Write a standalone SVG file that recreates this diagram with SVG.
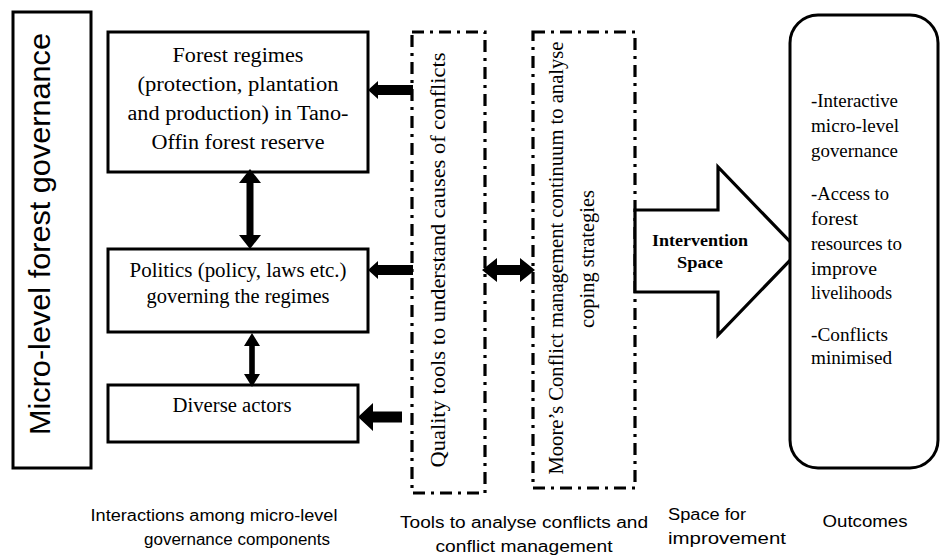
<svg xmlns="http://www.w3.org/2000/svg" width="941" height="555" viewBox="0 0 941 555">
  <style>
    .box { fill: #ffffff; stroke: #000000; stroke-width: 3; }
    .dash { fill: none; stroke: #000000; stroke-width: 3.2; stroke-dasharray: 12 6 3 6; }
    .arrow { fill: #000000; stroke: none; }
    .serif { font-family: "Liberation Serif", "Times New Roman", serif; fill: #000000; }
    .sans { font-family: "Liberation Sans", Arial, sans-serif; fill: #000000; }
    .t20 { font-size: 20.5px; }
    .mid { text-anchor: middle; }
  </style>

  <!-- Vertical title panel -->
  <g id="title-panel">
    <rect class="box" x="13" y="12" width="78" height="456"/>
    <text class="sans mid" transform="translate(50,234) rotate(-90)" font-size="30" textLength="402" lengthAdjust="spacingAndGlyphs">Micro-level forest governance</text>
  </g>

  <!-- Governance components -->
  <g id="forest-regimes">
    <rect class="box" x="108" y="32" width="260" height="140"/>
    <text class="serif t20 mid" x="238" y="62" textLength="131" lengthAdjust="spacingAndGlyphs">Forest regimes</text>
    <text class="serif t20 mid" x="238" y="91" textLength="201" lengthAdjust="spacingAndGlyphs">(protection, plantation</text>
    <text class="serif t20 mid" x="238" y="120" textLength="221" lengthAdjust="spacingAndGlyphs">and production) in Tano-</text>
    <text class="serif t20 mid" x="238" y="149" textLength="173" lengthAdjust="spacingAndGlyphs">Offin forest reserve</text>
  </g>

  <g id="politics">
    <rect class="box" x="108" y="249" width="260" height="83"/>
    <text class="serif t20 mid" x="238" y="277" textLength="217" lengthAdjust="spacingAndGlyphs">Politics (policy, laws etc.)</text>
    <text class="serif t20 mid" x="238" y="303" textLength="183" lengthAdjust="spacingAndGlyphs">governing the regimes</text>
  </g>

  <g id="diverse-actors">
    <rect class="box" x="108" y="385" width="250" height="57"/>
    <text class="serif t20 mid" x="232" y="412" textLength="119" lengthAdjust="spacingAndGlyphs">Diverse actors</text>
  </g>

  <!-- Analysis tools (dash-dot frames) -->
  <g id="quality-tools">
    <rect class="dash" x="412" y="32" width="73" height="461"/>
    <text class="serif t20 mid" transform="translate(445,260) rotate(-90)" textLength="415" lengthAdjust="spacingAndGlyphs">Quality tools to understand causes of conflicts</text>
  </g>

  <g id="moore-continuum">
    <rect class="dash" x="533" y="32" width="102" height="456"/>
    <text class="serif t20 mid" transform="translate(563,258) rotate(-90)" textLength="433" lengthAdjust="spacingAndGlyphs">Moore’s Conflict management continuum to analyse</text>
    <text class="serif t20 mid" transform="translate(594,259) rotate(-90)" textLength="138" lengthAdjust="spacingAndGlyphs">coping strategies</text>
  </g>

  <!-- Intervention block arrow -->
  <g id="intervention">
    <polygon points="635,210 718,210 718,167 799,251 718,335 718,292 635,292" fill="#ffffff" stroke="#000000" stroke-width="3.2" stroke-linejoin="miter"/>
    <text class="serif mid" x="700" y="246" font-size="16" font-weight="bold" textLength="96" lengthAdjust="spacingAndGlyphs">Intervention</text>
    <text class="serif mid" x="700" y="268" font-size="16" font-weight="bold" textLength="46" lengthAdjust="spacingAndGlyphs">Space</text>
  </g>

  <!-- Outcomes -->
  <g id="outcomes">
    <rect class="box" x="790" y="15" width="148" height="453" rx="28" ry="28"/>
    <g class="serif" font-size="18">
      <text x="811" y="107" textLength="87" lengthAdjust="spacingAndGlyphs">-Interactive</text>
      <text x="811" y="132" textLength="88" lengthAdjust="spacingAndGlyphs">micro-level</text>
      <text x="811" y="157" textLength="87" lengthAdjust="spacingAndGlyphs">governance</text>
      <text x="811" y="200" textLength="78" lengthAdjust="spacingAndGlyphs">-Access to</text>
      <text x="811" y="225" textLength="47" lengthAdjust="spacingAndGlyphs">forest</text>
      <text x="811" y="250" textLength="91" lengthAdjust="spacingAndGlyphs">resources to</text>
      <text x="811" y="275" textLength="66" lengthAdjust="spacingAndGlyphs">improve</text>
      <text x="811" y="299" textLength="81" lengthAdjust="spacingAndGlyphs">livelihoods</text>
      <text x="811" y="341" textLength="77" lengthAdjust="spacingAndGlyphs">-Conflicts</text>
      <text x="811" y="364" textLength="81" lengthAdjust="spacingAndGlyphs">minimised</text>
    </g>
  </g>

  <!-- Connectors -->
  <g id="connectors">
    <!-- regimes <-> politics -->
    <polygon class="arrow" points="250,169 261,183 253.5,183 253.5,235 261,235 250,249 239,235 246.5,235 246.5,183 239,183"/>
    <!-- politics <-> actors -->
    <polygon class="arrow" points="252,333 260,346 254.8,346 254.8,374 260,374 252,387 244,374 249.2,374 249.2,346 244,346"/>
    <!-- quality tools -> regimes -->
    <polygon class="arrow" points="368,90 378,81 378,85 413,85 413,95 378,95 378,99"/>
    <!-- quality tools -> politics -->
    <polygon class="arrow" points="368,270 378,261 378,265 413,265 413,275 378,275 378,279"/>
    <!-- quality tools -> actors -->
    <polygon class="arrow" points="358,417 373,403 373,411.5 402,411.5 402,422.5 373,422.5 373,431"/>
    <!-- quality tools <-> Moore continuum -->
    <polygon class="arrow" points="482,270 497,258 497,265 520,265 520,258 535,270 520,282 520,275 497,275 497,282"/>
  </g>

  <!-- Column captions -->
  <g id="captions" class="sans" font-size="16">
    <text class="mid" x="214" y="521" textLength="247" lengthAdjust="spacingAndGlyphs">Interactions among micro-level</text>
    <text class="mid" x="237" y="545" textLength="186" lengthAdjust="spacingAndGlyphs">governance components</text>
    <text class="mid" x="524" y="528" textLength="248" lengthAdjust="spacingAndGlyphs">Tools to analyse conflicts and</text>
    <text class="mid" x="524" y="552" textLength="177" lengthAdjust="spacingAndGlyphs">conflict management</text>
    <text x="668" y="520" textLength="78" lengthAdjust="spacingAndGlyphs">Space for</text>
    <text x="668" y="544" textLength="118" lengthAdjust="spacingAndGlyphs">improvement</text>
    <text class="mid" x="865" y="527" textLength="85" lengthAdjust="spacingAndGlyphs">Outcomes</text>
  </g>
</svg>
